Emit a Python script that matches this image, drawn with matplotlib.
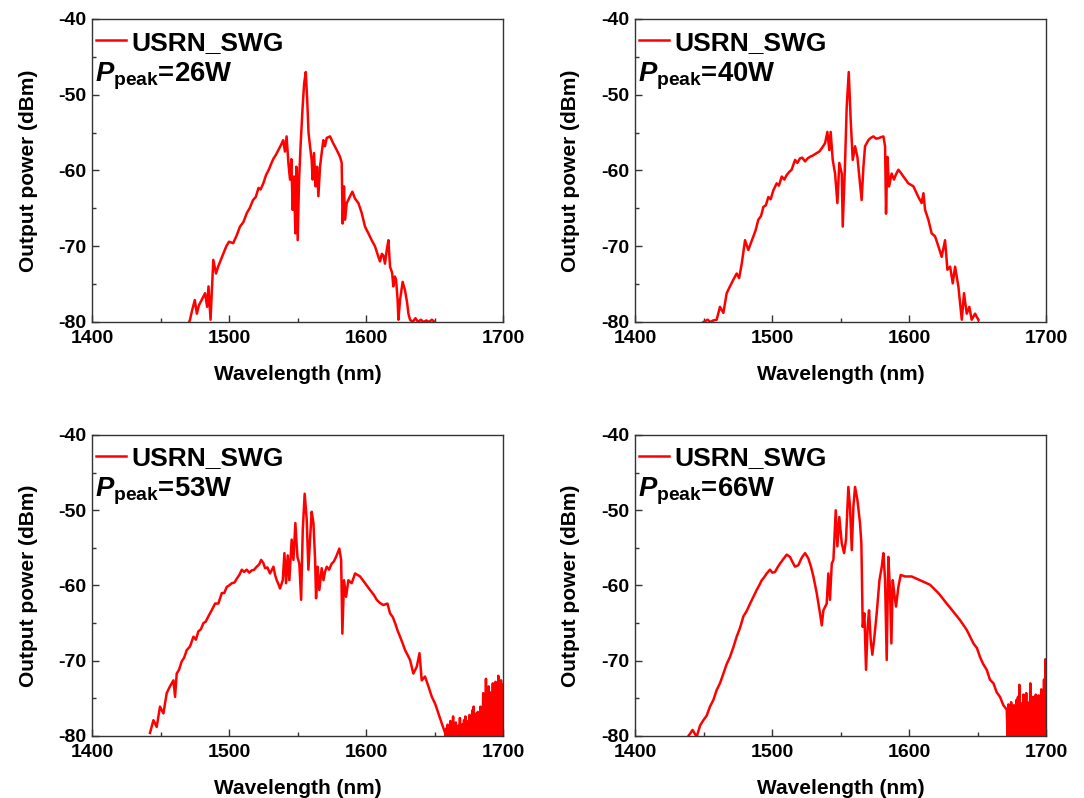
"""
Supercontinuum output spectra of USRN_SWG at four peak powers (2x2 panels)
"""

import numpy as np
import matplotlib
matplotlib.use("Agg")
import matplotlib.pyplot as plt
from matplotlib.ticker import MultipleLocator

# ── Data ──────────────────────────────────────────────────────
PEAK_POWERS = ["26W", "40W", "53W", "66W"]
SERIES_LABEL = "USRN_SWG"

WL_26 = [1470, 1471.5, 1473, 1475, 1476.5, 1478, 1480, 1482.5, 1484, 1485,
         1486.5, 1488.5, 1490.5, 1492, 1494, 1496, 1498, 1500, 1503, 1505.5,
         1508, 1510.5, 1513, 1515, 1517.5, 1519.5, 1521.5, 1523, 1525, 1527,
         1529, 1531, 1532.5, 1534, 1536, 1538, 1539.5, 1540.8, 1542, 1543.3,
         1544.5, 1545.5, 1546.4, 1547.4, 1548.4, 1549.1, 1550.1, 1551.1, 1552.3, 1553.7,
         1554.8, 1556, 1557, 1558, 1559.1, 1560.3, 1561, 1562, 1563.2, 1564.2,
         1565.2, 1566.4, 1567.6, 1568.8, 1570, 1571.3, 1573.7, 1576, 1578.6, 1581,
         1582.2, 1582.9, 1583.9, 1584.6, 1585.9, 1588.3, 1590, 1591.9, 1594.4, 1596.8,
         1599.2, 1601.7, 1604.1, 1606.5, 1609, 1610.2, 1611.5, 1612.6, 1613.8, 1615.1,
         1616.3, 1617.5, 1619, 1619.9, 1621, 1621.9, 1623, 1623.6, 1624.8, 1626.7,
         1628.4, 1630, 1630.9, 1632.1, 1634, 1636, 1638, 1640, 1642, 1644,
         1646, 1648, 1650]
P_26 = [-80.5, -79.7, -78.5, -77.1, -78.9, -77.8, -77.1, -76.2, -78.0, -75.3,
        -79.7, -71.8, -73.6, -72.7, -71.8, -70.9, -70.0, -69.4, -69.6, -68.6,
        -67.4, -66.8, -65.6, -65.0, -63.9, -63.5, -62.3, -62.5, -61.7, -60.6,
        -59.9, -59.0, -58.4, -58.0, -57.3, -56.6, -56.0, -57.5, -55.5, -59.0,
        -61.2, -58.5, -65.2, -60.8, -68.3, -59.5, -69.2, -61.2, -56.4, -51.6,
        -48.5, -47.0, -50.5, -55.0, -56.8, -58.6, -61.2, -57.7, -62.1, -59.5,
        -63.4, -59.5, -57.7, -56.0, -56.8, -55.7, -55.5, -56.4, -57.3, -58.2,
        -59.0, -67.0, -62.1, -66.5, -64.3, -63.4, -62.8, -63.7, -64.3, -65.6,
        -67.4, -68.3, -69.2, -70.0, -71.4, -72.0, -71.0, -71.2, -72.3, -70.5,
        -69.2, -72.7, -73.5, -75.3, -74.0, -74.4, -77.0, -79.7, -77.1, -74.7,
        -75.8, -77.5, -78.9, -79.7, -80.0, -79.5, -80.0, -79.7, -80.0, -79.8,
        -80.0, -79.7, -80.0]

WL_40 = [1450, 1453, 1455, 1457, 1459.6, 1462, 1464.5, 1466.9, 1469.3, 1471.8,
         1474.2, 1476, 1477.9, 1480.3, 1482.7, 1484.5, 1486.4, 1488, 1490, 1492,
         1493.7, 1495.5, 1497.3, 1499, 1501, 1503.4, 1505, 1507.1, 1509, 1510.7,
         1512.5, 1514.3, 1516.8, 1518.5, 1520.4, 1522, 1524.1, 1526, 1527.7, 1530,
         1532.6, 1534.5, 1536.2, 1538.7, 1540.4, 1541.8, 1542.8, 1544.3, 1546, 1547.7,
         1549.1, 1550.9, 1551.6, 1553.3, 1554.5, 1556, 1557.4, 1558.9, 1560.6, 1562.3,
         1564.2, 1565.4, 1566.7, 1567.9, 1570.3, 1572, 1574, 1576, 1577.6, 1579.5,
         1581.3, 1582.5, 1583.2, 1584.2, 1585.4, 1587.3, 1589, 1590.5, 1592.2, 1594,
         1595.9, 1597.5, 1599.5, 1601.5, 1603.2, 1605, 1606.8, 1609.2, 1610.5, 1611.7,
         1614.1, 1616.5, 1619, 1621.4, 1623.8, 1626.3, 1628, 1630, 1631.9, 1633.6,
         1636, 1638.5, 1640.1, 1642.1, 1644, 1645.7, 1648.2, 1650.6]
P_40 = [-80.0, -79.7, -80.0, -79.8, -79.7, -78.0, -78.8, -76.2, -75.3, -74.4,
        -73.6, -74.2, -72.3, -69.2, -70.5, -69.6, -68.7, -67.9, -66.5, -66.0,
        -64.8, -64.6, -63.5, -63.8, -62.6, -61.7, -62.0, -60.8, -61.2, -60.6,
        -60.2, -59.9, -58.6, -59.0, -58.4, -58.3, -58.8, -58.4, -58.2, -58.0,
        -57.7, -57.5, -57.1, -56.4, -54.9, -57.3, -54.9, -58.6, -60.4, -64.3,
        -59.0, -60.4, -67.4, -59.0, -51.6, -47.0, -53.3, -58.6, -56.8, -58.2,
        -61.7, -63.9, -59.5, -56.8, -56.0, -55.7, -55.5, -55.8, -55.75, -55.6,
        -55.5, -56.8, -65.7, -58.2, -62.1, -60.4, -61.2, -60.5, -59.9, -60.3,
        -60.8, -61.2, -61.7, -61.9, -62.1, -62.8, -63.5, -64.3, -63.0, -65.2,
        -66.5, -68.3, -68.7, -70.0, -71.4, -69.2, -73.1, -72.7, -74.9, -72.7,
        -75.3, -79.7, -76.2, -78.9, -78.0, -79.7, -78.9, -79.7]

WL_53 = [1442.3, 1444.8, 1447.2, 1449.6, 1452.1, 1454.5, 1456.9, 1459.4, 1460.6, 1461.8,
         1463.5, 1465.4, 1467.2, 1469.1, 1471.5, 1474, 1475.8, 1477.6, 1479.5, 1481.3,
         1483, 1484.9, 1487.3, 1489.8, 1492.2, 1494.7, 1496.5, 1498.3, 1500, 1502,
         1504, 1505.6, 1507.5, 1509.3, 1511, 1512.9, 1514.7, 1516.5, 1518.3, 1520.2,
         1522, 1523.4, 1525, 1526.3, 1528, 1529.9, 1531, 1532.4, 1533.6, 1534.8,
         1536, 1537.2, 1539.2, 1540.4, 1541.6, 1542.8, 1544, 1545.7, 1547, 1548.4,
         1549.9, 1551.3, 1552.6, 1553.8, 1555.2, 1556.7, 1557.9, 1559.1, 1560.3, 1561.6,
         1562.8, 1563.5, 1564.7, 1565.9, 1567.6, 1568.9, 1570, 1571.3, 1573, 1574.9,
         1576.5, 1578.1, 1580.5, 1581.8, 1582.7, 1583.9, 1585.4, 1587.1, 1589.5, 1592,
         1595.6, 1599.3, 1602.9, 1605.5, 1607.8, 1610, 1612.6, 1615.6, 1617.5, 1619.5,
         1621.2, 1623, 1624.8, 1626.5, 1628.5, 1630.5, 1632.1, 1634.5, 1637, 1639,
         1640.6, 1643, 1645.5, 1648, 1650.4, 1652.8, 1655.2, 1657.7]
P_53 = [-79.6, -77.9, -78.8, -76.1, -77.0, -74.3, -73.4, -72.6, -74.8, -71.7,
        -71.2, -70.1, -69.6, -68.6, -68.1, -66.8, -67.2, -66.1, -65.8, -65.0,
        -64.8, -64.1, -63.3, -62.4, -62.4, -61.0, -61.0, -60.2, -60.0, -59.7,
        -59.6, -59.1, -58.6, -57.9, -58.2, -57.9, -58.3, -58.0, -57.9, -57.5,
        -57.2, -56.6, -57.0, -57.7, -57.6, -58.4, -58.0, -57.5, -58.6, -59.3,
        -59.8, -60.4, -59.3, -55.7, -59.7, -56.0, -59.3, -53.9, -56.6, -51.7,
        -56.2, -57.1, -61.9, -52.6, -47.8, -51.3, -57.9, -53.9, -50.2, -51.7,
        -56.6, -61.7, -57.5, -60.6, -57.7, -59.3, -58.2, -57.5, -57.9, -57.1,
        -56.8, -56.2, -55.1, -56.6, -66.4, -59.3, -61.5, -59.3, -59.7, -58.4,
        -58.8, -59.7, -60.6, -61.2, -61.9, -62.3, -62.6, -62.4, -63.7, -64.2,
        -65.0, -66.0, -66.8, -67.6, -68.6, -69.3, -69.9, -71.7, -70.8, -69.0,
        -72.6, -72.1, -73.4, -74.8, -75.7, -77.0, -78.3, -79.6]
# noise floor beyond the long-wavelength edge: 0.5 nm grid, spike tops
FLOOR_53_RANGE = (1658, 1700)
FLOOR_53_TOPS = [-79.0, -78.5, -79.2, -78.0, -79.0, -77.4, -78.8, -78.2, -79.3, -78.6,
                 -77.6, -79.0, -78.4, -77.9, -77.4, -78.7, -78.0, -77.2, -78.5, -76.6,
                 -76.1, -77.8, -77.0, -76.8, -78.0, -76.1, -77.2, -74.3, -76.0, -72.4,
                 -75.0, -73.4, -74.2, -75.5, -73.0, -74.6, -72.8, -74.0, -72.0, -73.8,
                 -72.6, -73.2]

WL_66 = [1439, 1442, 1445, 1447.5, 1449.9, 1452.3, 1454.7, 1457.2, 1459.6, 1462,
         1464.5, 1467, 1469.3, 1471.8, 1474.2, 1476.7, 1479.1, 1481.5, 1484, 1486.4,
         1488.8, 1490.6, 1492.5, 1494.3, 1496.1, 1498.5, 1500.3, 1502.2, 1504, 1505.8,
         1508.2, 1510.7, 1513.1, 1515, 1516.8, 1519.2, 1521.7, 1524.1, 1526.5, 1528.4,
         1530.2, 1532.6, 1535, 1536.3, 1537.5, 1539.9, 1541.1, 1542.3, 1543.6, 1544.8,
         1546.5, 1547.7, 1549.1, 1550.9, 1552.6, 1554, 1555.7, 1556.9, 1558.2, 1559.4,
         1560.6, 1562.3, 1564.2, 1565.2, 1566.2, 1567.4, 1568.6, 1569.8, 1570.8, 1572,
         1573.2, 1574.5, 1576.4, 1578.4, 1580.1, 1581.3, 1582.5, 1583.7, 1584.9, 1586.1,
         1587.1, 1588.1, 1589.5, 1590.5, 1592.2, 1593.9, 1597.1, 1601.9, 1608, 1615.3,
         1621.4, 1627.5, 1632.4, 1637.2, 1642.1, 1647, 1649.5, 1651.8, 1654, 1656.7,
         1659, 1661.6, 1664, 1666.4, 1668.8, 1671.3]
P_66 = [-80.0, -79.2, -80.1, -78.6, -77.9, -77.3, -76.1, -75.2, -73.9, -73.0,
        -71.7, -70.4, -69.5, -68.2, -66.8, -65.6, -64.1, -63.4, -62.4, -61.5,
        -60.6, -60.0, -59.3, -58.9, -58.4, -57.9, -58.3, -58.2, -57.6, -57.1,
        -56.5, -55.9, -56.2, -56.9, -57.5, -57.3, -56.3, -55.7, -56.4, -57.5,
        -58.8, -61.0, -63.7, -65.3, -63.3, -62.4, -58.4, -61.9, -57.1, -56.6,
        -50.0, -54.8, -50.9, -54.4, -55.7, -53.9, -46.9, -49.5, -55.3, -49.5,
        -46.9, -48.6, -51.7, -54.4, -65.5, -63.7, -71.2, -65.5, -63.3, -67.2,
        -69.2, -67.2, -63.7, -59.3, -57.5, -55.7, -59.3, -69.9, -56.2, -60.6,
        -67.7, -59.3, -61.5, -62.8, -60.2, -58.6, -58.8, -58.8, -59.3, -59.9,
        -61.0, -62.4, -63.5, -64.6, -65.9, -67.7, -68.3, -69.5, -70.4, -71.2,
        -72.5, -73.0, -74.2, -74.8, -75.9, -76.5]
FLOOR_66_RANGE = (1672, 1700)
FLOOR_66_TOPS = [-75.8, -76.5, -75.5, -76.8, -75.9, -76.3, -75.2, -74.8, -73.2, -75.6,
                 -76.0, -74.5, -75.8, -74.3, -75.5, -76.2, -73.0, -75.4, -74.8, -75.9,
                 -74.5, -76.0, -74.6, -75.2, -73.8, -75.0, -72.5, -69.8]
FLOOR_LOW = -80.5   # the floor dips below the axis limit

X_TICKS = [1400, 1500, 1600, 1700]
Y_TICKS = [-80, -70, -60, -50, -40]

RED = "#FF0000"


def with_floor(wl, p, rng=None, tops=None):
    wl, p = list(wl), list(p)
    if rng is None:
        return wl, p
    n = 2 * len(tops) + 1
    fw = np.linspace(rng[0], rng[1], n)
    fp = np.full(n, FLOOR_LOW)
    fp[1::2] = tops
    return wl + list(fw), p + list(fp)


SPECTRA = [
    with_floor(WL_26, P_26),
    with_floor(WL_40, P_40),
    with_floor(WL_53, P_53, FLOOR_53_RANGE, FLOOR_53_TOPS),
    with_floor(WL_66, P_66, FLOOR_66_RANGE, FLOOR_66_TOPS),
]

# ── Style ─────────────────────────────────────────────────────
plt.rcParams["font.family"] = ["Liberation Sans", "DejaVu Sans"]
plt.rcParams["font.weight"] = "bold"
plt.rcParams["axes.unicode_minus"] = False
plt.rcParams["path.simplify"] = False
plt.rcParams["mathtext.fontset"] = "custom"
plt.rcParams["mathtext.rm"] = "Liberation Sans:bold"
plt.rcParams["mathtext.it"] = "Liberation Sans:italic:bold"
plt.rcParams["mathtext.bf"] = "Liberation Sans:bold"

fig = plt.figure(figsize=(10.84, 7.98), dpi=100)
fig.patch.set_facecolor("white")

AX_RECTS = [
    [0.0849, 0.5965, 0.3792, 0.3797],
    [0.5858, 0.5965, 0.3792, 0.3797],
    [0.0849, 0.0777, 0.3792, 0.3772],
    [0.5858, 0.0777, 0.3792, 0.3772],
]

for rect, (wl, p), pk in zip(AX_RECTS, SPECTRA, PEAK_POWERS):
    ax = fig.add_axes(rect)
    ax.plot(wl, p, color=RED, linewidth=1.8, label=SERIES_LABEL,
            solid_joinstyle="round")

    ax.set_xlim(1400, 1700)
    ax.set_ylim(-80, -40)
    ax.set_xticks(X_TICKS)
    ax.set_yticks(Y_TICKS)
    ax.xaxis.set_minor_locator(MultipleLocator(50))
    ax.yaxis.set_minor_locator(MultipleLocator(5))
    ax.tick_params(which="both", direction="in", color="#333333", width=1.0)
    ax.tick_params(which="major", length=5, labelsize=14)
    ax.tick_params(which="minor", length=3)
    ax.tick_params(axis="x", pad=6)
    ax.tick_params(axis="y", pad=4)
    for s in ax.spines.values():
        s.set_color("#333333")
        s.set_linewidth(1.0)

    ax.set_xlabel("Wavelength (nm)", fontsize=15, fontweight="bold", labelpad=13)
    ax.set_ylabel("Output power (dBm)", fontsize=15, fontweight="bold", labelpad=15)

    ax.legend(loc="upper left", bbox_to_anchor=(0.0, 0.975), frameon=False,
              handlelength=1.15, handletextpad=0.2, borderaxespad=0.0,
              borderpad=0.15, prop={"weight": "bold", "size": 19})
    ax.text(0.008, 0.795, r"$P_{\mathrm{peak}}$=" + pk, transform=ax.transAxes,
            fontsize=19.8, fontweight="bold", va="baseline", ha="left")

fig.savefig("out.png", dpi=100, facecolor="white")
